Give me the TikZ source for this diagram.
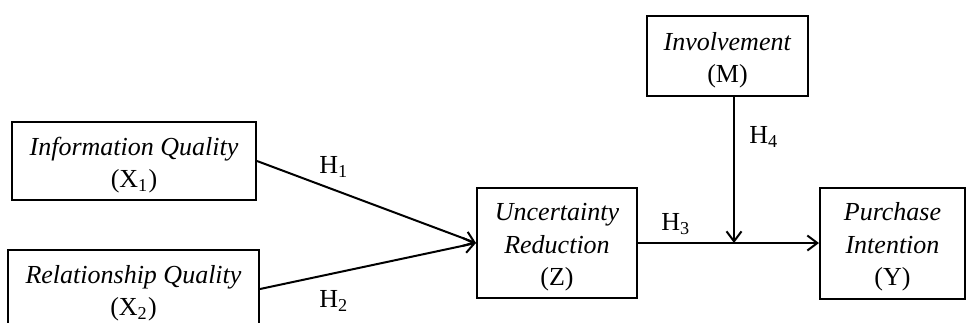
\documentclass[tikz,border=0pt]{standalone}
\usepackage{fontspec}
\setmainfont{Liberation Serif}
\usetikzlibrary{arrows.meta, positioning}

\newcommand{\boxstrut}{\rule{0pt}{10.6pt}}

\tikzset{
  box/.style={draw, line width=0.8pt, align=center, inner sep=0pt,
    font=\fontsize{10.4}{13}\selectfont},
  link/.style={line width=0.8pt, -{Straight Barb[length=4pt, width=6pt]}},
  hyp/.style={inner sep=0pt, font=\fontsize{10.4}{12}\selectfont}
}

\begin{document}
\begin{tikzpicture}[x=0.4pt, y=-0.4pt]
  \useasboundingbox (0,0) rectangle (966,322);
  \clip (0,0) rectangle (966,322);
  % Constructs
  \node[box, minimum width=97.6pt, minimum height=31.2pt] (iq) at (134,161)
    {\boxstrut\textit{Information Quality}\\(X\textsubscript{1})};
  \node[box, minimum width=100.4pt, minimum height=31.2pt] (rq) at (133.5,289)
    {\boxstrut\textit{Relationship Quality}\\(X\textsubscript{2})};
  \node[box, minimum width=64pt, minimum height=44pt] (uz) at (557,243)
    {\boxstrut\textit{Uncertainty}\\\textit{Reduction}\\(Z)};
  \node[box, minimum width=58pt, minimum height=44.4pt] (py) at (892.5,243)
    {\boxstrut\textit{Purchase}\\\textit{Intention}\\(Y)};
  \node[box, minimum width=64.4pt, minimum height=32pt] (inv) at (727.5,56)
    {\boxstrut\textit{Involvement}\\(M)};
  \coordinate (mod) at (734,243);

  % Paths
  \draw[link] (iq.east) -- (uz.west);
  \draw[link] (rq.east) -- (uz.west);
  \draw[link] (uz.east) -- (py.west);
  \draw[link] (inv.south -| mod) -- (mod);

  % Hypotheses
  \node[hyp] (h1) at (334,167) {H\textsubscript{1}};
  \node[hyp] (h2) at (334,301) {H\textsubscript{2}};
  \node[hyp] (h3) at (676,224) {H\textsubscript{3}};
  \node[hyp] (h4) at (764,137) {H\textsubscript{4}};
\end{tikzpicture}
\end{document}
